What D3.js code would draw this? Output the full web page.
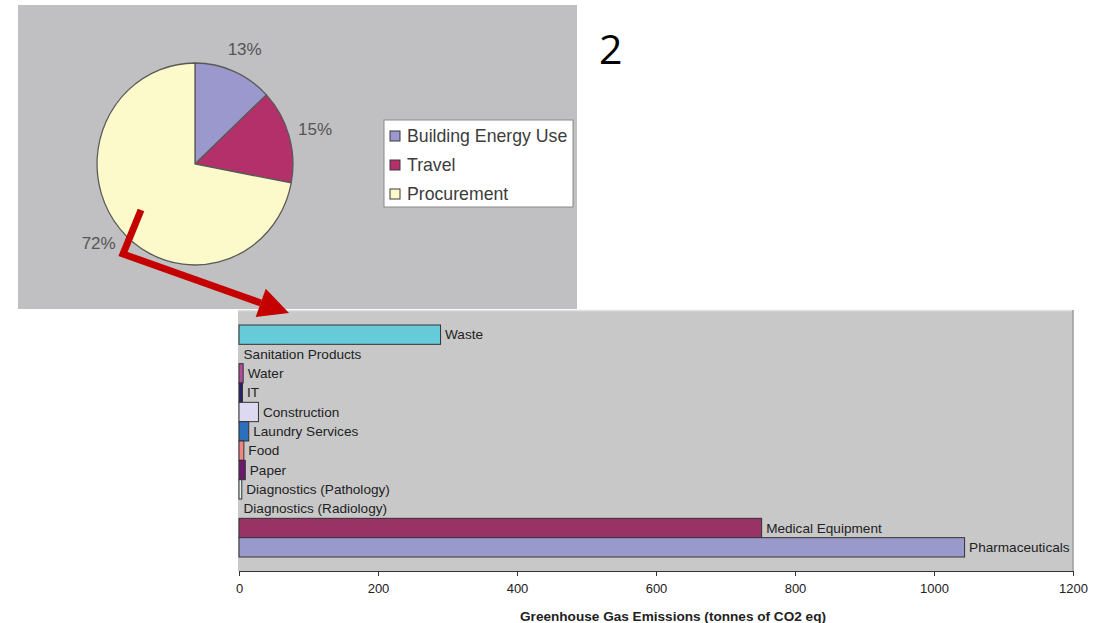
<!DOCTYPE html>
<html>
<head>
<meta charset="utf-8">
<script src="https://cdn.jsdelivr.net/npm/d3@7/dist/d3.min.js"></script>
<style>
  html, body { margin: 0; padding: 0; background: #ffffff; }
  svg { display: block; font-family: "Liberation Sans", Arial, sans-serif; }
</style>
</head>
<body>
<svg id="chart" width="1109" height="623"></svg>
<script>
// Share of emissions by source
const pieCategories = ["Building Energy Use", "Travel", "Procurement"];
const pieValues = [13, 15, 72];
const pieColors = ["#9a98cc", "#b3306a", "#fcf9cb"];

// Procurement breakdown (tonnes of CO2 eq), listed top to bottom
const barCategories = [
  "Waste", "Sanitation Products", "Water", "IT", "Construction",
  "Laundry Services", "Food", "Paper", "Diagnostics (Pathology)",
  "Diagnostics (Radiology)", "Medical Equipment", "Pharmaceuticals"
];
const barValues = [290, 0, 6, 5, 28, 14, 7, 9, 4, 0, 752, 1044];
const barColors = [
  "#66cbd9", "#8a8acb", "#b04c9c", "#23236e", "#dcd9f0",
  "#2c6fbd", "#f08585", "#6a1b6c", "#e2f0f0",
  "#cfcfcf", "#993366", "#9999cc"
];
const xTicks = [0, 200, 400, 600, 800, 1000, 1200];

const svg = d3.select("#chart");

// ---------- Pie panel ----------
svg.append("rect")
  .attr("x", 18).attr("y", 5).attr("width", 559).attr("height", 304)
  .attr("fill", "#c0bfc1");

const pieData = d3.pie().sort(null)(pieValues);
const cx = 195, cy = 164, r = 101;
const arc = d3.arc().innerRadius(0).outerRadius(r);

const pieG = svg.append("g")
  .attr("transform", `translate(${cx},${cy}) scale(0.97,1)`);
pieG.selectAll("path")
  .data(pieData)
  .join("path")
  .attr("d", arc)
  .attr("fill", (d, i) => pieColors[i])
  .attr("stroke", "#5a5a55")
  .attr("stroke-width", 1.3);

const labelArc = d3.arc().innerRadius(125).outerRadius(125);
svg.append("g")
  .attr("transform", `translate(${cx},${cy})`)
  .selectAll("text")
  .data(pieData)
  .join("text")
  .attr("transform", d => {
    const [x, y] = labelArc.centroid(d);
    return `translate(${x},${y})`;
  })
  .attr("text-anchor", "middle")
  .attr("dominant-baseline", "central")
  .attr("font-size", 17)
  .attr("fill", "#555555")
  .text(d => d.data + "%");

// Legend
const legend = svg.append("g").attr("transform", "translate(384,120)");
legend.append("rect")
  .attr("width", 189).attr("height", 87)
  .attr("fill", "#ffffff")
  .attr("stroke", "#8a8a8a")
  .attr("stroke-width", 1);
const legendItems = legend.selectAll("g.item")
  .data(pieCategories)
  .join("g")
  .attr("class", "item")
  .attr("transform", (d, i) => `translate(6,${16 + i * 29})`);
legendItems.append("rect")
  .attr("x", 0).attr("y", -5).attr("width", 10).attr("height", 10)
  .attr("fill", (d, i) => pieColors[i])
  .attr("stroke", "#3a3a3a")
  .attr("stroke-width", 1);
legendItems.append("text")
  .attr("x", 17)
  .attr("dominant-baseline", "central")
  .attr("font-size", 17.7)
  .attr("fill", "#3c3c3c")
  .text(d => d);

// Slide number
svg.append("text")
  .attr("x", 599).attr("y", 64)
  .attr("font-family", "'Open Sans', sans-serif")
  .attr("font-size", 41)
  .attr("fill", "#000000")
  .text("2");

// ---------- Bar panel ----------
const x = d3.scaleLinear().domain([0, 1200]).range([239, 1073]);
const y = d3.scaleBand().domain(barCategories).range([325, 557]).padding(0);

svg.append("rect")
  .attr("x", 238).attr("y", 310).attr("width", 835).attr("height", 261)
  .attr("fill", "#c8c8c9");
svg.append("line")
  .attr("x1", 238).attr("x2", 1073).attr("y1", 310.5).attr("y2", 310.5)
  .attr("stroke", "#e2e2e2").attr("stroke-width", 1.5);
svg.append("line")
  .attr("x1", 1073).attr("x2", 1073).attr("y1", 310).attr("y2", 571)
  .attr("stroke", "#9c9c9e").attr("stroke-width", 1.5);

svg.append("g")
  .selectAll("rect")
  .data(barValues)
  .join("rect")
  .attr("x", x(0))
  .attr("y", (d, i) => y(barCategories[i]))
  .attr("width", d => x(d) - x(0))
  .attr("height", y.bandwidth())
  .attr("fill", (d, i) => barColors[i])
  .attr("stroke", d => d > 0 ? "#333333" : "none")
  .attr("stroke-width", 1);

svg.append("g")
  .selectAll("text")
  .data(barValues)
  .join("text")
  .attr("x", d => x(d) + 4.5)
  .attr("y", (d, i) => y(barCategories[i]) + y.bandwidth() / 2)
  .attr("dominant-baseline", "central")
  .attr("font-size", 13.6)
  .attr("fill", "#222222")
  .text((d, i) => barCategories[i]);

const axis = svg.append("g")
  .attr("transform", "translate(0,571)")
  .call(d3.axisBottom(x).tickValues(xTicks).tickFormat(d3.format("d"))
    .tickSize(5).tickSizeOuter(5).tickPadding(8));
axis.select(".domain").attr("stroke", "#333333");
axis.selectAll(".tick line").attr("stroke", "#333333");
axis.selectAll(".tick text")
  .attr("font-size", 13)
  .attr("font-family", "'Liberation Sans', Arial, sans-serif")
  .attr("fill", "#222222");

svg.append("text")
  .attr("x", 673).attr("y", 616)
  .attr("text-anchor", "middle")
  .attr("dominant-baseline", "central")
  .attr("font-size", 13.6)
  .attr("font-weight", "bold")
  .attr("fill", "#222222")
  .text("Greenhouse Gas Emissions (tonnes of CO2 eq)");

// ---------- Connecting arrow ----------
const arrowColor = "#c40000";
const tip = [289, 313], corner = [123, 254], start = [141, 210];
const ang = Math.atan2(tip[1] - corner[1], tip[0] - corner[0]);
const headLen = 30, headHalf = 15;
const base = [tip[0] - headLen * Math.cos(ang), tip[1] - headLen * Math.sin(ang)];
svg.append("path")
  .attr("d", d3.line()([start, corner, base]))
  .attr("fill", "none")
  .attr("stroke", arrowColor)
  .attr("stroke-width", 7)
  .attr("stroke-linejoin", "miter");
const nx = -Math.sin(ang), ny = Math.cos(ang);
svg.append("path")
  .attr("d", d3.line()([
    tip,
    [base[0] + nx * headHalf, base[1] + ny * headHalf],
    [base[0] - nx * headHalf, base[1] - ny * headHalf]
  ]) + "Z")
  .attr("fill", arrowColor);
</script>
</body>
</html>
